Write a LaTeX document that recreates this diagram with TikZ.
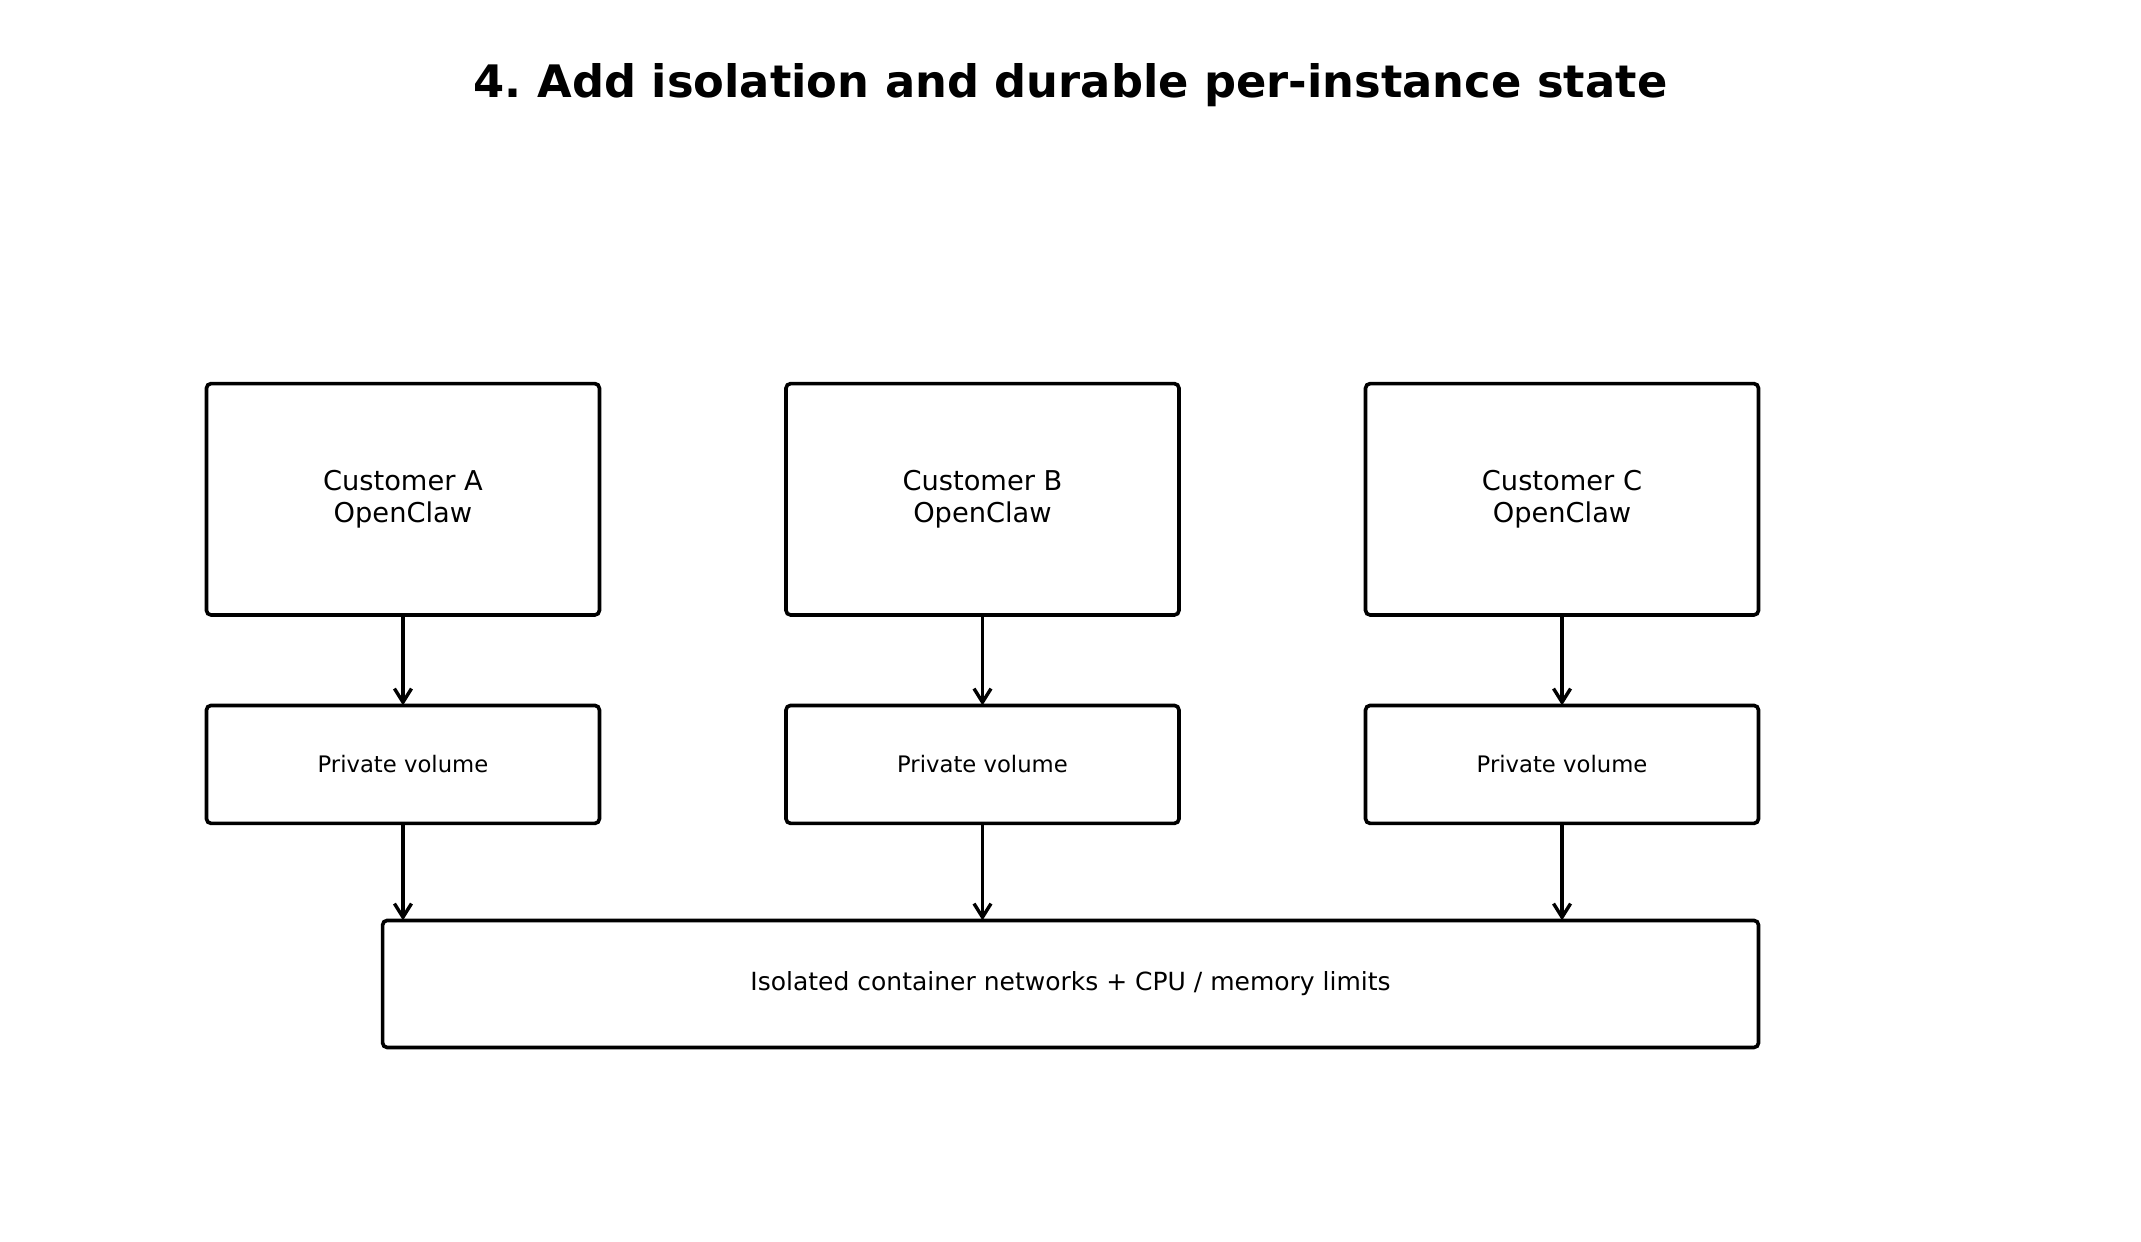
\documentclass[tikz,border=0pt]{standalone}
\usepackage{fontspec}
\setmainfont{DejaVu Sans}
\usetikzlibrary{positioning,arrows.meta}
\frenchspacing

\begin{document}
\begin{tikzpicture}[x=0.44pt,y=-0.44pt]
\tikzset{>={Straight Barb[length=6pt,width=7.5pt]}}
\useasboundingbox (0,0) rectangle (2141,1242);
\node[anchor=base, font=\bfseries\fontsize{19.7}{23.6}\selectfont] (title) at (1070.5,98)
	{4. Add isolation and durable per-instance state};
\matrix (m) at (982.5,603.5) [column sep=80.5pt, row sep=38.2pt, every node/.style={
	shape=rectangle,
	rounded corners=2pt,
	minimum width=172.9pt,
	inner sep=0pt,
	outer sep=0pt,
	align=center,
	line width=1.6pt,
	draw=black,
}] {
	\node[minimum height=101.8pt, font=\fontsize{12}{14.4}\selectfont] (a1) {Customer A\\OpenClaw}; &
	\node[minimum height=101.8pt, font=\fontsize{12}{14.4}\selectfont] (a2) {Customer B\\OpenClaw}; &
	\node[minimum height=101.8pt, font=\fontsize{12}{14.4}\selectfont] (a3) {Customer C\\OpenClaw}; \\

	\node[minimum height=51.9pt, font=\fontsize{10}{12}\selectfont] (b1) {Private volume}; &
	\node[minimum height=51.9pt, font=\fontsize{10}{12}\selectfont] (b2) {Private volume}; &
	\node[minimum height=51.9pt, font=\fontsize{10}{12}\selectfont] (b3) {Private volume}; \\
};
\node[below left=42.7pt and 0pt of b3.south east, shape=rectangle, rounded corners=2pt,
	minimum width=605.4pt, minimum height=55.9pt, inner sep=0pt, outer sep=0pt,
	line width=1.6pt, draw=black, font=\fontsize{11}{13.2}\selectfont] (net)
	{Isolated container networks + CPU / memory limits};
\begin{scope}[->, line width=1.5pt]
\draw (a1) -- (b1);
\draw (a2) -- (b2);
\draw (a3) -- (b3);
\draw (b1) -- (b1 |- net.north);
\draw (b2) -- (b2 |- net.north);
\draw (b3) -- (b3 |- net.north);
\end{scope}
\end{tikzpicture}
\end{document}
